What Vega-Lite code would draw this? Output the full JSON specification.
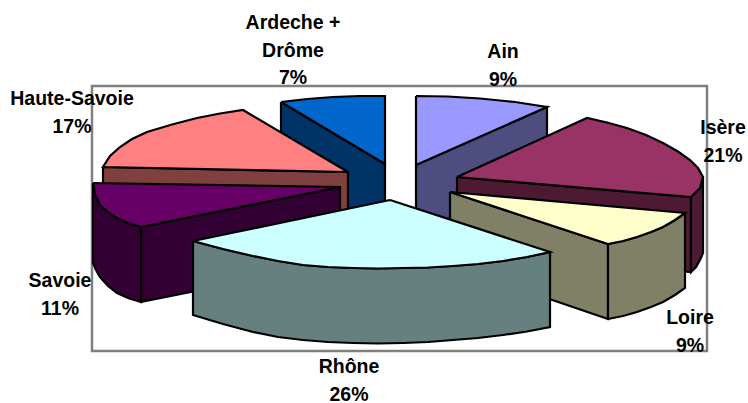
{"$schema":"https://vega.github.io/schema/vega-lite/v6.json","width":748,"height":403,"padding":0,"autosize":"none","background":"white","view":{"stroke":null},
"datasets":{
"frame":[{"x":92,"y":86,"x2":707,"y2":351}],
"labels":[
{"label":"Ain\n9%","x":503,"y":52},
{"label":"Isère\n21%","x":723,"y":128},
{"label":"Loire\n9%","x":690,"y":318},
{"label":"Rhône\n26%","x":349,"y":367},
{"label":"Savoie\n11%","x":60,"y":281},
{"label":"Haute-Savoie\n17%","x":72,"y":99},
{"label":"Ardeche +\nDrôme\n7%","x":293,"y":23}
],
"faces":[
{"face":"Ardèche side","step":0,"x":281,"y":102},{"face":"Ardèche side","step":1,"x":385,"y":164},{"face":"Ardèche side","step":2,"x":385,"y":225},{"face":"Ardèche side","step":3,"x":281,"y":225},{"face":"Ardèche side","step":4,"x":281,"y":102},
{"face":"Ardèche top","step":0,"x":281,"y":102},{"face":"Ardèche top","step":1,"x":307,"y":99},{"face":"Ardèche top","step":2,"x":333,"y":97},{"face":"Ardèche top","step":3,"x":359,"y":96},{"face":"Ardèche top","step":4,"x":385,"y":96},{"face":"Ardèche top","step":5,"x":385,"y":164},{"face":"Ardèche top","step":6,"x":281,"y":102},
{"face":"Ain side","step":0,"x":416,"y":165},{"face":"Ain side","step":1,"x":547,"y":107},{"face":"Ain side","step":2,"x":547,"y":175},{"face":"Ain side","step":3,"x":416,"y":233},{"face":"Ain side","step":4,"x":416,"y":165},
{"face":"Ain top","step":0,"x":416,"y":96},{"face":"Ain top","step":1,"x":448,"y":96.5},{"face":"Ain top","step":2,"x":480,"y":98.5},{"face":"Ain top","step":3,"x":515,"y":102},{"face":"Ain top","step":4,"x":547,"y":107},{"face":"Ain top","step":5,"x":416,"y":165},{"face":"Ain top","step":6,"x":416,"y":96},
{"face":"Isère front","step":0,"x":457,"y":177},{"face":"Isère front","step":1,"x":691,"y":197},{"face":"Isère front","step":2,"x":691,"y":272},{"face":"Isère front","step":3,"x":457,"y":252},{"face":"Isère front","step":4,"x":457,"y":177},
{"face":"Isère rim","step":0,"x":691,"y":197},{"face":"Isère rim","step":1,"x":700,"y":188},{"face":"Isère rim","step":2,"x":703,"y":177},{"face":"Isère rim","step":3,"x":703,"y":253},{"face":"Isère rim","step":4,"x":700,"y":260},{"face":"Isère rim","step":5,"x":696,"y":267},{"face":"Isère rim","step":6,"x":691,"y":272},{"face":"Isère rim","step":7,"x":691,"y":197},
{"face":"Isère top","step":0,"x":457,"y":177},{"face":"Isère top","step":1,"x":587,"y":118},{"face":"Isère top","step":2,"x":607,"y":122.5},{"face":"Isère top","step":3,"x":627,"y":128},{"face":"Isère top","step":4,"x":646,"y":135},{"face":"Isère top","step":5,"x":663,"y":143},{"face":"Isère top","step":6,"x":678,"y":151.5},{"face":"Isère top","step":7,"x":690,"y":160},{"face":"Isère top","step":8,"x":698,"y":168},{"face":"Isère top","step":9,"x":703,"y":177},{"face":"Isère top","step":10,"x":700,"y":188},{"face":"Isère top","step":11,"x":691,"y":197},{"face":"Isère top","step":12,"x":457,"y":177},
{"face":"Haute-Savoie front","step":0,"x":103,"y":167},{"face":"Haute-Savoie front","step":1,"x":348,"y":172},{"face":"Haute-Savoie front","step":2,"x":348,"y":230},{"face":"Haute-Savoie front","step":3,"x":103,"y":230},{"face":"Haute-Savoie front","step":4,"x":103,"y":167},
{"face":"Haute-Savoie top","step":0,"x":348,"y":172},{"face":"Haute-Savoie top","step":1,"x":243,"y":110},{"face":"Haute-Savoie top","step":2,"x":220,"y":113.5},{"face":"Haute-Savoie top","step":3,"x":197,"y":118},{"face":"Haute-Savoie top","step":4,"x":172,"y":124.5},{"face":"Haute-Savoie top","step":5,"x":147,"y":132},{"face":"Haute-Savoie top","step":6,"x":132,"y":139},{"face":"Haute-Savoie top","step":7,"x":120,"y":147},{"face":"Haute-Savoie top","step":8,"x":110,"y":156},{"face":"Haute-Savoie top","step":9,"x":103,"y":167},{"face":"Haute-Savoie top","step":10,"x":348,"y":172},
{"face":"Savoie front","step":0,"x":141,"y":227},{"face":"Savoie front","step":1,"x":340,"y":187},{"face":"Savoie front","step":2,"x":340,"y":262},{"face":"Savoie front","step":3,"x":141,"y":302},{"face":"Savoie front","step":4,"x":141,"y":227},
{"face":"Savoie rim","step":0,"x":93,"y":183},{"face":"Savoie rim","step":1,"x":95,"y":194},{"face":"Savoie rim","step":2,"x":100,"y":205},{"face":"Savoie rim","step":3,"x":108,"y":212},{"face":"Savoie rim","step":4,"x":117,"y":218},{"face":"Savoie rim","step":5,"x":128,"y":223},{"face":"Savoie rim","step":6,"x":141,"y":227},{"face":"Savoie rim","step":7,"x":141,"y":302},{"face":"Savoie rim","step":8,"x":128,"y":298},{"face":"Savoie rim","step":9,"x":117,"y":293},{"face":"Savoie rim","step":10,"x":108,"y":286},{"face":"Savoie rim","step":11,"x":100,"y":277},{"face":"Savoie rim","step":12,"x":96,"y":270},{"face":"Savoie rim","step":13,"x":93,"y":263},{"face":"Savoie rim","step":14,"x":93,"y":183},
{"face":"Savoie top","step":0,"x":93,"y":183},{"face":"Savoie top","step":1,"x":340,"y":187},{"face":"Savoie top","step":2,"x":141,"y":227},{"face":"Savoie top","step":3,"x":128,"y":223},{"face":"Savoie top","step":4,"x":117,"y":218},{"face":"Savoie top","step":5,"x":108,"y":212},{"face":"Savoie top","step":6,"x":100,"y":205},{"face":"Savoie top","step":7,"x":95,"y":194},{"face":"Savoie top","step":8,"x":93,"y":183},
{"face":"Loire front","step":0,"x":450,"y":192},{"face":"Loire front","step":1,"x":608,"y":244},{"face":"Loire front","step":2,"x":608,"y":319},{"face":"Loire front","step":3,"x":450,"y":265},{"face":"Loire front","step":4,"x":450,"y":192},
{"face":"Loire rim","step":0,"x":608,"y":244},{"face":"Loire rim","step":1,"x":623,"y":241},{"face":"Loire rim","step":2,"x":637,"y":237},{"face":"Loire rim","step":3,"x":651,"y":232},{"face":"Loire rim","step":4,"x":663,"y":227},{"face":"Loire rim","step":5,"x":675,"y":220},{"face":"Loire rim","step":6,"x":685,"y":213},{"face":"Loire rim","step":7,"x":685,"y":288},{"face":"Loire rim","step":8,"x":675,"y":295},{"face":"Loire rim","step":9,"x":663,"y":302},{"face":"Loire rim","step":10,"x":651,"y":307},{"face":"Loire rim","step":11,"x":637,"y":312},{"face":"Loire rim","step":12,"x":623,"y":316},{"face":"Loire rim","step":13,"x":608,"y":319},{"face":"Loire rim","step":14,"x":608,"y":244},
{"face":"Loire top","step":0,"x":450,"y":192},{"face":"Loire top","step":1,"x":685,"y":213},{"face":"Loire top","step":2,"x":675,"y":220},{"face":"Loire top","step":3,"x":663,"y":227},{"face":"Loire top","step":4,"x":651,"y":232},{"face":"Loire top","step":5,"x":637,"y":237},{"face":"Loire top","step":6,"x":623,"y":241},{"face":"Loire top","step":7,"x":608,"y":244},{"face":"Loire top","step":8,"x":450,"y":192},
{"face":"Rhône front","step":0,"x":193,"y":241},{"face":"Rhône front","step":1,"x":223,"y":249},{"face":"Rhône front","step":2,"x":253,"y":256},{"face":"Rhône front","step":3,"x":278,"y":261},{"face":"Rhône front","step":4,"x":303,"y":265},{"face":"Rhône front","step":5,"x":328,"y":267},{"face":"Rhône front","step":6,"x":353,"y":268},{"face":"Rhône front","step":7,"x":378,"y":268.5},{"face":"Rhône front","step":8,"x":403,"y":268},{"face":"Rhône front","step":9,"x":428,"y":267.5},{"face":"Rhône front","step":10,"x":453,"y":266},{"face":"Rhône front","step":11,"x":478,"y":264},{"face":"Rhône front","step":12,"x":503,"y":261},{"face":"Rhône front","step":13,"x":527,"y":257},{"face":"Rhône front","step":14,"x":550,"y":252},{"face":"Rhône front","step":15,"x":550,"y":327},{"face":"Rhône front","step":16,"x":527,"y":331.5},{"face":"Rhône front","step":17,"x":503,"y":335},{"face":"Rhône front","step":18,"x":478,"y":338},{"face":"Rhône front","step":19,"x":453,"y":340},{"face":"Rhône front","step":20,"x":428,"y":342},{"face":"Rhône front","step":21,"x":403,"y":343},{"face":"Rhône front","step":22,"x":378,"y":343.5},{"face":"Rhône front","step":23,"x":353,"y":343},{"face":"Rhône front","step":24,"x":328,"y":342},{"face":"Rhône front","step":25,"x":303,"y":340},{"face":"Rhône front","step":26,"x":278,"y":337},{"face":"Rhône front","step":27,"x":253,"y":332},{"face":"Rhône front","step":28,"x":223,"y":324},{"face":"Rhône front","step":29,"x":193,"y":315},{"face":"Rhône front","step":30,"x":193,"y":241},
{"face":"Rhône top","step":0,"x":390,"y":200},{"face":"Rhône top","step":1,"x":550,"y":252},{"face":"Rhône top","step":2,"x":527,"y":257},{"face":"Rhône top","step":3,"x":503,"y":261},{"face":"Rhône top","step":4,"x":478,"y":264},{"face":"Rhône top","step":5,"x":453,"y":266},{"face":"Rhône top","step":6,"x":428,"y":267.5},{"face":"Rhône top","step":7,"x":403,"y":268},{"face":"Rhône top","step":8,"x":378,"y":268.5},{"face":"Rhône top","step":9,"x":353,"y":268},{"face":"Rhône top","step":10,"x":328,"y":267},{"face":"Rhône top","step":11,"x":303,"y":265},{"face":"Rhône top","step":12,"x":278,"y":261},{"face":"Rhône top","step":13,"x":253,"y":256},{"face":"Rhône top","step":14,"x":223,"y":249},{"face":"Rhône top","step":15,"x":193,"y":241},{"face":"Rhône top","step":16,"x":390,"y":200}
]},
"layer":[
{"data":{"name":"frame"},"mark":{"type":"rect","fill":"white","stroke":"#808080","strokeWidth":2.5},"encoding":{"x":{"field":"x","type":"quantitative","scale":{"domain":[0,748],"nice":false,"zero":false},"axis":null},"y":{"field":"y","type":"quantitative","scale":{"domain":[403,0],"nice":false,"zero":false},"axis":null},"x2":{"field":"x2"},"y2":{"field":"y2"}}},
{"data":{"name":"faces"},"mark":{"type":"line","stroke":"black","strokeWidth":2.2,"strokeJoin":"miter"},"encoding":{
"x":{"field":"x","type":"quantitative","scale":{"domain":[0,748],"nice":false,"zero":false},"axis":null},
"y":{"field":"y","type":"quantitative","scale":{"domain":[403,0],"nice":false,"zero":false},"axis":null},
"order":{"field":"step","type":"quantitative"},
"fill":{"field":"face","type":"nominal","legend":null,"scale":{"domain":["Ardèche side","Ardèche top","Ain side","Ain top","Isère front","Isère rim","Isère top","Haute-Savoie front","Haute-Savoie top","Savoie front","Savoie rim","Savoie top","Loire front","Loire rim","Loire top","Rhône front","Rhône top"],"range":["#003366","#0066CC","#4D4D80","#9999FF","#4D1933","#4D1933","#993366","#804040","#FF8080","#330033","#330033","#660066","#808066","#808066","#FFFFCC","#668080","#CCFFFF"]}}}},
{"data":{"name":"labels"},"mark":{"type":"text","font":"Liberation Sans","fontWeight":"bold","fontSize":19.5,"lineHeight":27.5,"lineBreak":"\n","align":"center","baseline":"middle","color":"black"},"encoding":{
"x":{"field":"x","type":"quantitative","scale":{"domain":[0,748],"nice":false,"zero":false},"axis":null},
"y":{"field":"y","type":"quantitative","scale":{"domain":[403,0],"nice":false,"zero":false},"axis":null},
"text":{"field":"label","type":"nominal"}}}
]}
